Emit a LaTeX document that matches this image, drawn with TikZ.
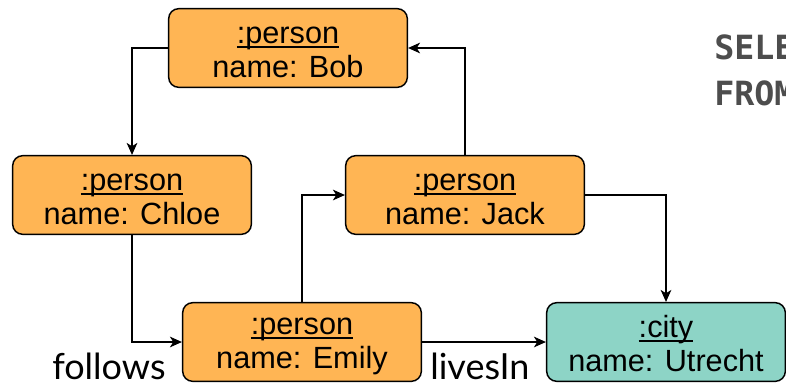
\documentclass[tikz,border=0pt]{standalone}
\usepackage{fontspec}
\setmainfont{Liberation Sans}
\setmonofont{DejaVu Sans Mono}
\newfontfamily\labelfont{Lato}
\usetikzlibrary{arrows.meta, positioning}
\definecolor{personorange}{RGB}{255, 181, 84}
\definecolor{cityteal}{RGB}{141, 212, 198}
\definecolor{querygray}{RGB}{77, 77, 77}
% underlined type line of an entity box
\newcommand{\entitytype}[1]{\rule{0pt}{19pt}\setbox0\hbox{#1}\rlap{\rule[-3.4pt]{\wd0}{1.4pt}}\box0}

\begin{document}
\begin{tikzpicture}[
  x=0.75pt, y=-0.75pt,
  entity/.style={draw, line width=1.1pt, rounded corners=7.5pt, minimum width=179pt, minimum height=59pt, align=center, inner sep=0pt, font=\fontsize{23}{26}\selectfont},
  rel/.style={line width=1.1pt, -{Stealth[length=9pt, width=8pt, inset=2.5pt]}},
  edgelabel/.style={font=\labelfont\fontsize{27}{30}\selectfont, inner sep=0pt},
  querytext/.style={font=\ttfamily\bfseries\fontsize{25}{35}\selectfont, text=querygray, align=left, inner sep=0pt}
]
  \useasboundingbox (0,0) rectangle (786,385);
  \clip (0,0) rectangle (786,385);

  % Persons
  \node[entity, fill=personorange] (bob) at (288, 48) {\entitytype{:person}\\name: Bob};
  \node[entity, fill=personorange] (chloe) at (132, 195) {\entitytype{:person}\\name: Chloe};
  \node[entity, fill=personorange] (jack) at (465, 195) {\entitytype{:person}\\name: Jack};
  \node[entity, fill=personorange] (emily) at (302, 342) {\entitytype{:person}\\name: Emily};

  % City
  \node[entity, fill=cityteal] (utrecht) at (666, 342) {\entitytype{:city}\\name: Utrecht};

  % follows
  \draw[rel] (bob.west) -| (chloe.north);
  \draw[rel] (chloe.south) |- (emily.west);
  \draw[rel] (emily.north) |- (jack.west);
  \draw[rel] (jack.north) |- (bob.east);

  % livesIn
  \draw[rel] (jack.east) -| (utrecht.north);
  \draw[rel] (emily.east) -- (utrecht.west);

  % Labels
  \node[edgelabel, anchor=base west] (followslbl) at (52, 379) {follows};
  \node[edgelabel, anchor=base west] (livesinlbl) at (430, 379) {livesIn};

  % Query
  \node[querytext, anchor=north west] (query) at (714, 34) {SELECT\\FROM};
\end{tikzpicture}
\end{document}
